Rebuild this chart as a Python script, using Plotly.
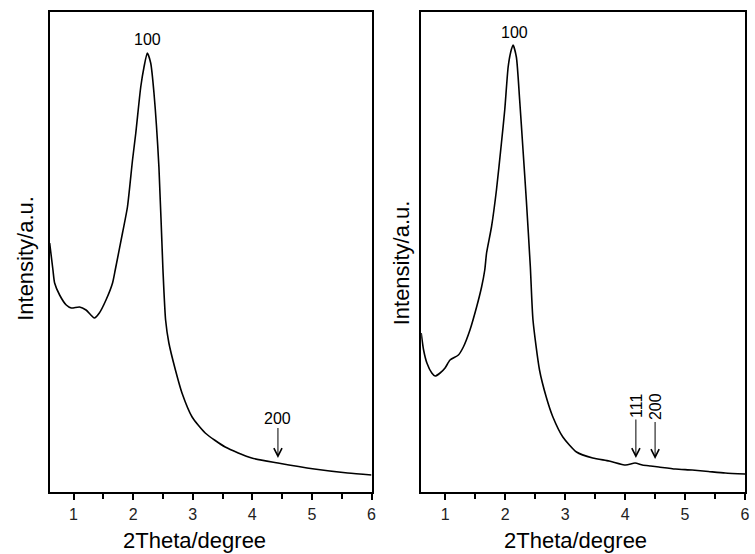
import plotly.graph_objects as go

# ---- data ----
left_x = [0.6, 0.655, 0.683, 0.767, 0.878, 0.962, 1.1, 1.21, 1.35, 1.433, 1.545, 1.655,
          1.70, 1.822, 1.905, 1.99, 2.045, 2.128, 2.183, 2.238, 2.295, 2.35, 2.433, 2.50,
          2.545, 2.6, 2.71, 2.82, 2.99, 3.21, 3.545, 3.99, 4.43, 5.04, 5.6, 6.0]
left_y = [249, 222, 209, 197, 187, 184, 185, 182, 174, 179, 192, 209,
          222, 259, 285, 332, 359, 405, 425, 439, 429, 399, 325, 223,
          172, 149, 122, 99, 75, 59, 45, 34, 29, 23, 19, 17]

right_x = [0.6, 0.64, 0.695, 0.777, 0.832, 0.915, 0.998, 1.081, 1.22, 1.303, 1.413, 1.524,
           1.607, 1.66, 1.69, 1.772, 1.855, 1.938, 1.993, 2.05, 2.093, 2.132, 2.187, 2.242,
           2.298, 2.353, 2.42, 2.464, 2.573, 2.685, 2.796, 2.962, 3.19, 3.46, 3.734, 4.01,
           4.166, 4.288, 4.426, 4.563, 4.84, 5.117, 5.39, 5.67, 6.0]
right_y = [159, 142, 129, 119, 116, 119, 124, 132, 137, 145, 162, 185,
           205, 222, 239, 265, 302, 349, 382, 425, 440, 447, 435, 392,
           342, 292, 225, 172, 122, 95, 75, 55, 40, 34, 31, 27,
           29, 27, 26, 25, 23, 22, 20.5, 19, 18]

tick_vals = [1, 2, 3, 4, 5, 6]
tick_text = ["1", "2", "3", "4", "5", "6"]

# peak labels: (text, x, y)
left_peak = ("100", 2.24, 452)
right_peak = ("100", 2.16, 459)
# arrow-marked reflections: (text, x, y of arrow tip)
left_marks = [("200", 4.43, 34)]
right_marks = [("111", 4.18, 34), ("200", 4.50, 33)]

x_title = "2Theta/degree"
y_title = "Intensity/a.u."

W, H = 755, 554
FONT = "Liberation Sans, Arial, sans-serif"

fig = go.Figure()
fig.add_trace(go.Scatter(x=left_x, y=left_y, mode="lines",
                         line=dict(color="black", width=1.6, shape="spline", smoothing=0.6),
                         xaxis="x", yaxis="y", showlegend=False, hoverinfo="skip"))
fig.add_trace(go.Scatter(x=right_x, y=right_y, mode="lines",
                         line=dict(color="black", width=1.6, shape="spline", smoothing=0.6),
                         xaxis="x2", yaxis="y2", showlegend=False, hoverinfo="skip"))

ydom = [1 - 492 / H, 1 - 12 / H]
xax = dict(range=[0.6, 6], tickvals=tick_vals, ticktext=tick_text, ticks="outside", ticklen=6,
           tickwidth=1.5, tickcolor="black", showline=True, linecolor="black", linewidth=2,
           mirror=True, showgrid=False, zeroline=False, ticklabelstandoff=1,
           tickfont=dict(family=FONT, size=16, color="#222"),
           minor=dict(dtick=0.5, tick0=0.5, ticks="outside", ticklen=5, tickwidth=1.5, tickcolor="black"))
yax = dict(range=[0, 480], showticklabels=False, ticks="", showline=True, linecolor="black",
           linewidth=2, mirror=True, showgrid=False, zeroline=False)

fig.update_layout(
    width=W, height=H, margin=dict(l=0, r=0, t=0, b=0),
    paper_bgcolor="white", plot_bgcolor="white",
    xaxis=dict(domain=[50 / W, 374 / W], anchor="y", **xax),
    yaxis=dict(domain=ydom, anchor="x", **yax),
    xaxis2=dict(domain=[424 / W, 750 / W], anchor="y2", **xax),
    yaxis2=dict(domain=ydom, anchor="x2", **yax),
)

ann = []
for (t, x, y), xr, yr in [(left_peak, "x", "y"), (right_peak, "x2", "y2")]:
    ann.append(dict(text=t, x=x, y=y, xref=xr, yref=yr, showarrow=False,
                    xanchor="center", yanchor="middle",
                    font=dict(family=FONT, size=16, color="black")))
for (t, x, y) in left_marks:
    ann.append(dict(text=t, x=x, y=y, xref="x", yref="y", showarrow=True, ax=0, ay=-40,
                    arrowhead=5, arrowsize=1.6, arrowwidth=1, arrowcolor="black",
                    font=dict(family=FONT, size=16, color="black")))
for (t, x, y) in right_marks:
    ann.append(dict(text=t, x=x, y=y, xref="x2", yref="y2", showarrow=True, ax=0, ay=-52,
                    textangle=-90, arrowhead=5, arrowsize=1.6, arrowwidth=1, arrowcolor="black",
                    font=dict(family=FONT, size=16, color="black")))
# axis titles
for cx, cy in [(196, 540), (579, 540)]:
    ann.append(dict(text=x_title, x=cx / W, y=1 - cy / H, xref="paper", yref="paper",
                    xanchor="center", yanchor="middle",
                    showarrow=False, font=dict(family=FONT, size=22, color="black")))
for cx, cy in [(25, 258), (404, 263)]:
    ann.append(dict(text=y_title, x=cx / W, y=1 - cy / H, xref="paper", yref="paper",
                    xanchor="center", yanchor="middle",
                    showarrow=False, textangle=-90, font=dict(family=FONT, size=22, color="black")))
fig.update_layout(annotations=ann)

fig.write_html("out.html", config={"displayModeBar": False},
               post_script="document.body.style.margin='0';")
